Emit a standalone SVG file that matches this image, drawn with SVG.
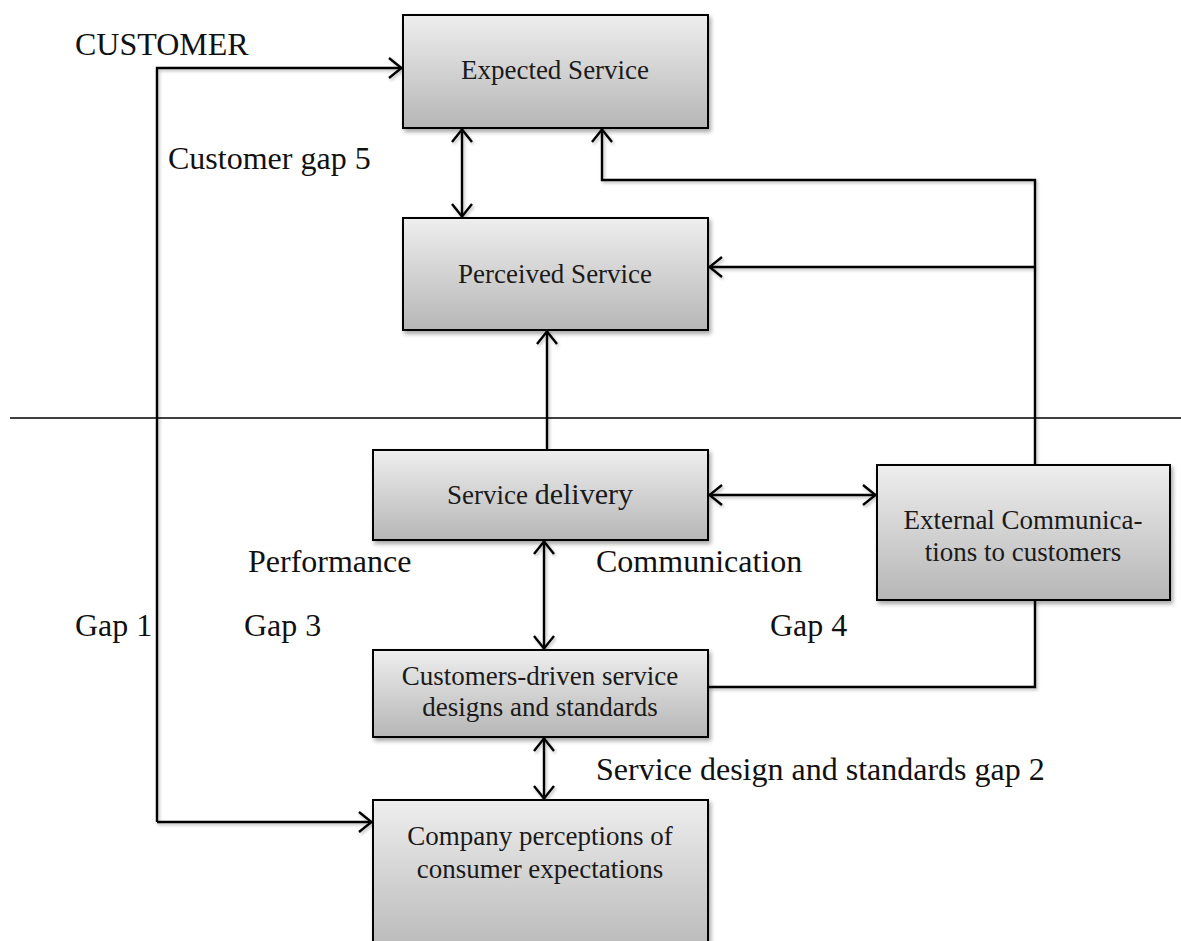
<svg xmlns="http://www.w3.org/2000/svg" width="1181" height="941" viewBox="0 0 1181 941">
  <defs>
    <linearGradient id="boxFill" x1="0" y1="0" x2="0" y2="1">
      <stop offset="0" stop-color="#eeeeee"/>
      <stop offset="1" stop-color="#b6b6b6"/>
    </linearGradient>
    <filter id="shadow" x="-10%" y="-10%" width="130%" height="140%">
      <feDropShadow dx="2" dy="3" stdDeviation="2" flood-color="#000" flood-opacity="0.35"/>
    </filter>
    <filter id="lineShadow" x="-5%" y="-5%" width="110%" height="110%">
      <feDropShadow dx="1.5" dy="2" stdDeviation="1.5" flood-color="#000" flood-opacity="0.25"/>
    </filter>
    <!-- open V arrowhead, reused at both ends via auto-start-reverse -->
    <marker id="arrow" viewBox="0 0 16 24" refX="15" refY="12" markerWidth="16" markerHeight="24" markerUnits="userSpaceOnUse" orient="auto-start-reverse">
      <path d="M2,2 L14.5,12 L2,22" fill="none" stroke="#000" stroke-width="2.4"/>
    </marker>
  </defs>
  <style>
    .box { fill: url(#boxFill); stroke: #000; stroke-width: 2; filter: url(#shadow); }
    .boxText { font-family: "Liberation Serif", serif; font-size: 27px; fill: #1a1a1a; text-anchor: middle; }
    .label { font-family: "Liberation Serif", serif; font-size: 32px; fill: #111; }
    .conn { fill: none; stroke: #000; stroke-width: 2.4; }
    .arrowEnd { marker-end: url(#arrow); }
    .arrowBoth { marker-start: url(#arrow); marker-end: url(#arrow); }
  </style>

  <rect width="1181" height="941" fill="#fff"/>

  <!-- connectors -->
  <g id="connectors" filter="url(#lineShadow)">
    <path class="conn arrowEnd" d="M157,822 V68 H402"/>
    <path class="conn arrowEnd" d="M157,822 H372"/>
    <path class="conn arrowBoth" d="M462,129 V217"/>
    <path class="conn arrowEnd" d="M1035,465 V180 H602 V129"/>
    <path class="conn arrowEnd" d="M1035,267 H709"/>
    <path class="conn arrowEnd" d="M547,450 V331"/>
    <path class="conn arrowBoth" d="M709,495 H876"/>
    <path class="conn arrowBoth" d="M544,541 V649"/>
    <path class="conn arrowBoth" d="M544,738 V799"/>
    <path class="conn" d="M1035,600 V687 H708"/>
  </g>

  <!-- boundary between customer side and company side -->
  <line id="separator" x1="10" y1="418" x2="1181" y2="418" stroke="#000" stroke-width="1.6"/>

  <g id="expected-service">
    <rect class="box" x="403" y="15" width="305" height="113"/>
    <text class="boxText" x="555" y="79" font-size="28">Expected Service</text>
  </g>

  <g id="perceived-service">
    <rect class="box" x="403" y="218" width="305" height="112"/>
    <text class="boxText" x="555" y="283" font-size="28">Perceived Service</text>
  </g>

  <g id="service-delivery">
    <rect class="box" x="373" y="450" width="335" height="90"/>
    <text class="boxText" x="540" y="504">Service <tspan font-size="30">delivery</tspan></text>
  </g>

  <g id="external-communications">
    <rect class="box" x="877" y="465" width="293" height="135"/>
    <text class="boxText" x="1023" y="529">External Communica-</text>
    <text class="boxText" x="1023" y="561">tions to customers</text>
  </g>

  <g id="service-designs">
    <rect class="box" x="373" y="650" width="335" height="87"/>
    <text class="boxText" x="540" y="685">Customers-driven service</text>
    <text class="boxText" x="540" y="716">designs and standards</text>
  </g>

  <g id="company-perceptions">
    <rect class="box" x="373" y="800" width="335" height="160"/>
    <text class="boxText" x="540" y="845">Company perceptions of</text>
    <text class="boxText" x="540" y="878">consumer expectations</text>
  </g>

  <g id="labels">
    <text class="label" x="75" y="55" font-size="33">CUSTOMER</text>
    <text class="label" x="168" y="169" font-size="33">Customer gap 5</text>
    <text class="label" x="248" y="572">Performance</text>
    <text class="label" x="596" y="572">Communication</text>
    <text class="label" x="75" y="636">Gap 1</text>
    <text class="label" x="244" y="636">Gap 3</text>
    <text class="label" x="770" y="636">Gap 4</text>
    <text class="label" x="596" y="780">Service design and standards gap 2</text>
  </g>
</svg>
